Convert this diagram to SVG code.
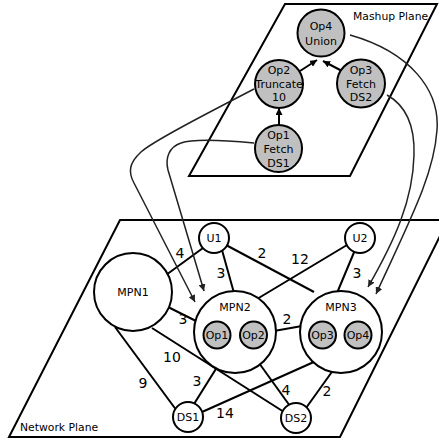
<svg xmlns="http://www.w3.org/2000/svg" width="439" height="441" viewBox="0 0 439 441">
  <defs>
    <marker id="tip" viewBox="0 0 10 10" refX="10" refY="5" markerWidth="7" markerHeight="7" markerUnits="userSpaceOnUse" orient="auto">
      <path d="M0,0 L10,5 L0,10 z" fill="#000"/>
    </marker>
    <marker id="tipMap" viewBox="0 0 10 10" refX="10" refY="5" markerWidth="7" markerHeight="7" markerUnits="userSpaceOnUse" orient="auto">
      <path d="M0,0 L10,5 L0,10 z" fill="#222"/>
    </marker>
  </defs>
  <style>
    .plane { fill: none; stroke: #000; stroke-width: 2; }
    .plane-label { font-family: "DejaVu Sans", Verdana, sans-serif; font-size: 10.8px; fill: #000; }
    .op { fill: #c0c0c0; stroke: #000; stroke-width: 2; }
    .net { fill: #fff; stroke: #000; stroke-width: 2; }
    .lbl { font-family: "DejaVu Sans", Verdana, sans-serif; font-size: 11px; fill: #000; text-anchor: middle; }
    .w { font-family: "DejaVu Sans", Verdana, sans-serif; font-size: 14px; fill: #000; text-anchor: middle; }
    .link { stroke: #000; stroke-width: 2; fill: none; }
    .flow { stroke: #000; stroke-width: 2; fill: none; marker-end: url(#tip); }
    .map { stroke: #222; stroke-width: 1.5; fill: none; marker-end: url(#tipMap); }
  </style>

  <rect width="439" height="441" fill="#fff"/>

  <!-- planes -->
  <g id="mashup-plane">
    <polygon class="plane" points="285,4 437,4 350,176 189,176"/>
    <text class="plane-label" x="353" y="20">Mashup Plane</text>
  </g>
  <g id="network-plane">
    <polygon class="plane" points="120,220 448,220 340,437 9,437"/>
    <text class="plane-label" x="20" y="431">Network Plane</text>
  </g>

  <!-- network links with weights -->
  <g id="links">
    <line class="link" x1="203" y1="248" x2="166" y2="275"/>
    <line class="link" x1="222" y1="250" x2="234" y2="293"/>
    <line class="link" x1="226" y1="245" x2="314" y2="292"/>
    <line class="link" x1="347" y1="245" x2="257" y2="299"/>
    <line class="link" x1="355" y1="250" x2="337" y2="293"/>
    <line class="link" x1="168" y1="307" x2="198" y2="322"/>
    <line class="link" x1="274" y1="331" x2="302" y2="326"/>
    <line class="link" x1="152" y1="328" x2="284" y2="412"/>
    <line class="link" x1="115" y1="327" x2="177" y2="411"/>
    <line class="link" x1="219" y1="364" x2="194" y2="404"/>
    <line class="link" x1="259" y1="363" x2="290" y2="406"/>
    <line class="link" x1="334" y1="369" x2="306" y2="408"/>
    <line class="link" x1="316" y1="361" x2="202" y2="412"/>
    <text class="w" x="180" y="258">4</text>
    <text class="w" x="221" y="278">3</text>
    <text class="w" x="262" y="258">2</text>
    <text class="w" x="300" y="264">12</text>
    <text class="w" x="357" y="278">3</text>
    <text class="w" x="183" y="324">3</text>
    <text class="w" x="287" y="324">2</text>
    <text class="w" x="172" y="362">10</text>
    <text class="w" x="143" y="388">9</text>
    <text class="w" x="197" y="386">3</text>
    <text class="w" x="286" y="395">4</text>
    <text class="w" x="327" y="396">2</text>
    <text class="w" x="225" y="418">14</text>
  </g>

  <!-- network nodes -->
  <g id="U1">
    <circle class="net" cx="214" cy="238" r="15"/>
    <text class="lbl" x="214" y="242">U1</text>
  </g>
  <g id="U2">
    <circle class="net" cx="360" cy="238" r="15"/>
    <text class="lbl" x="360" y="242">U2</text>
  </g>
  <g id="MPN1">
    <circle class="net" cx="133" cy="292" r="39"/>
    <text class="lbl" x="133" y="296">MPN1</text>
  </g>
  <g id="MPN2">
    <circle class="net" cx="235" cy="332" r="41"/>
    <text class="lbl" x="235" y="311">MPN2</text>
    <circle class="op" cx="217" cy="335" r="13.5"/>
    <text class="lbl" x="217" y="339">Op1</text>
    <circle class="op" cx="253.5" cy="335" r="13.5"/>
    <text class="lbl" x="253.5" y="339">Op2</text>
  </g>
  <g id="MPN3">
    <circle class="net" cx="341" cy="332" r="41"/>
    <text class="lbl" x="341" y="311">MPN3</text>
    <circle class="op" cx="322.5" cy="335" r="13.5"/>
    <text class="lbl" x="322.5" y="339">Op3</text>
    <circle class="op" cx="358" cy="335" r="13.5"/>
    <text class="lbl" x="358" y="339">Op4</text>
  </g>
  <g id="DS1">
    <circle class="net" cx="188" cy="417" r="15"/>
    <text class="lbl" x="188" y="421">DS1</text>
  </g>
  <g id="DS2">
    <circle class="net" cx="296" cy="418" r="15"/>
    <text class="lbl" x="296" y="422">DS2</text>
  </g>

  <!-- mashup operator flow -->
  <g id="flow">
    <line class="flow" x1="279" y1="125" x2="279" y2="108"/>
    <line class="flow" x1="300" y1="71" x2="317" y2="60"/>
    <line class="flow" x1="342" y1="71" x2="323" y2="61"/>
  </g>

  <!-- mashup operators -->
  <g id="Op4">
    <circle class="op" cx="321" cy="33" r="23.5"/>
    <text class="lbl" x="321" y="30">Op4</text>
    <text class="lbl" x="321" y="45">Union</text>
  </g>
  <g id="Op2">
    <circle class="op" cx="279" cy="84" r="24"/>
    <text class="lbl" x="279" y="74">Op2</text>
    <text class="lbl" x="279" y="87.5">Truncate</text>
    <text class="lbl" x="279" y="101">10</text>
  </g>
  <g id="Op3">
    <circle class="op" cx="361" cy="83.5" r="24"/>
    <text class="lbl" x="361" y="74">Op3</text>
    <text class="lbl" x="361" y="87.5">Fetch</text>
    <text class="lbl" x="361" y="101">DS2</text>
  </g>
  <g id="Op1">
    <circle class="op" cx="278.5" cy="148.5" r="23.5"/>
    <text class="lbl" x="278.5" y="139">Op1</text>
    <text class="lbl" x="278.5" y="153">Fetch</text>
    <text class="lbl" x="278.5" y="167">DS1</text>
  </g>

  <!-- operator placement mappings -->
  <g id="mappings">
    <path class="map" d="M254,89 C200,117 152,142 141,152 C129,163 128,172 134,183 L195,302"/>
    <path class="map" d="M254,143 C222,140 192,139 181,143 C169,147 165,158 168,170 L204,291"/>
    <path class="map" d="M350,35 C410,52 440,90 437,130 C434,175 410,220 376,294"/>
    <path class="map" d="M387,95 C405,105 415,125 414,155 C413,200 395,240 368,287"/>
  </g>
</svg>
